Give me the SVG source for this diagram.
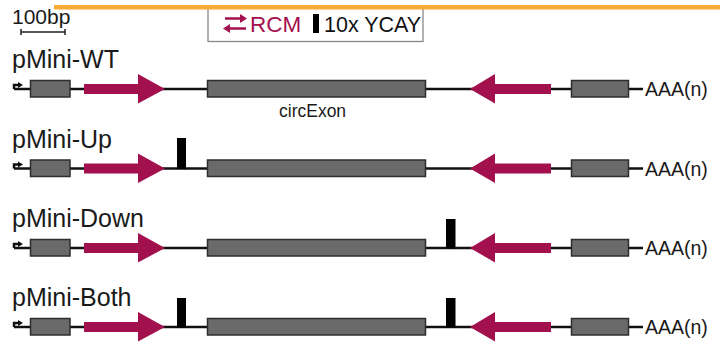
<svg xmlns="http://www.w3.org/2000/svg" width="720" height="345" viewBox="0 0 720 345">
<style>
.bb{fill:#6a6a6a;stroke:#2e2e2e;stroke-width:1.5}
.rcm{fill:#a3104e}
.ln{stroke:#111;stroke-width:2.5;fill:none}
.lbl{font-family:"Liberation Sans",Arial,sans-serif;font-size:25px;fill:#1a1a1a}
.aaa{font-family:"Liberation Sans",Arial,sans-serif;font-size:19.5px;fill:#1a1a1a}
.bar{fill:#000}
</style>
<defs>
<polygon id="fwd" class="rcm" points="84,84 138,84 138,74 165,89 138,103.5 138,94 84,94"/>
<polygon id="rev" class="rcm" points="551,84 495,84 495,74 470,89 495,103.5 495,94 551,94"/>
<g id="prom"><path d="M14,89 V85 H19" class="ln" stroke-width="2"/><polygon points="18,82 23,85 18,88" fill="#111"/></g>
</defs>
<g id="scale">
<text x="12" y="24" font-family="Liberation Sans,Arial,sans-serif" font-size="21" fill="#1a1a1a">100bp</text>
<path d="M21,32 H65 M21,29 V35 M65,29 V35" stroke="#222" stroke-width="1.5"/>
</g>
<g id="legend">
<rect x="208" y="6" width="215" height="35.5" fill="#fff" stroke="#888" stroke-width="1.3"/>
<path d="M225,18.5 H243 M226,28.5 H246" stroke="#a3104e" stroke-width="2.5"/>
<polygon points="240,14 247,18.5 240,23" fill="#a3104e"/>
<polygon points="230,24 223,28.5 230,33" fill="#a3104e"/>
<text x="250" y="31.5" font-family="Liberation Sans,Arial,sans-serif" font-size="22.5" fill="#a3104e">RCM</text>
<rect x="313" y="14" width="6" height="19" class="bar"/>
<text x="324" y="31.5" font-family="Liberation Sans,Arial,sans-serif" font-size="21.5" fill="#111">10x YCAY</text>
</g>
<rect x="54" y="5" width="666" height="4.5" fill="#fbac36"/>
<g id="connectors">
<path class="ln" d="M14,89 H643 M14,168.5 H643 M14,248 H643 M14,327 H643"/>
</g>
<g id="row-wt">
<text class="lbl" x="12" y="68">pMini-WT</text>
<use href="#prom"/>
<rect class="bb" x="30.5" y="80.5" width="39.5" height="16.5"/>
<use href="#fwd"/>
<rect class="bb" x="207.5" y="80.5" width="218" height="16.5"/>
<text x="279" y="117" font-family="Liberation Sans,Arial,sans-serif" font-size="17.5" fill="#1a1a1a">circExon</text>
<use href="#rev"/>
<rect class="bb" x="571.5" y="80.5" width="57" height="16.5"/>
<text class="aaa" x="645" y="96">AAA(n)</text>
</g>
<g id="row-up" transform="translate(0,79.5)">
<text class="lbl" x="12" y="68">pMini-Up</text>
<use href="#prom"/>
<rect class="bb" x="30.5" y="80.5" width="39.5" height="16.5"/>
<use href="#fwd"/>
<rect class="bar" x="177" y="58.5" width="9" height="31"/>
<rect class="bb" x="207.5" y="80.5" width="218" height="16.5"/>
<use href="#rev"/>
<rect class="bb" x="571.5" y="80.5" width="57" height="16.5"/>
<text class="aaa" x="645" y="96">AAA(n)</text>
</g>
<g id="row-down" transform="translate(0,159)">
<text class="lbl" x="12" y="68">pMini-Down</text>
<use href="#prom"/>
<rect class="bb" x="30.5" y="80.5" width="39.5" height="16.5"/>
<use href="#fwd"/>
<rect class="bb" x="207.5" y="80.5" width="218" height="16.5"/>
<rect class="bar" x="446" y="60" width="9.5" height="29.5"/>
<use href="#rev"/>
<rect class="bb" x="571.5" y="80.5" width="57" height="16.5"/>
<text class="aaa" x="645" y="96">AAA(n)</text>
</g>
<g id="row-both" transform="translate(0,238)">
<text class="lbl" x="12" y="68">pMini-Both</text>
<use href="#prom"/>
<rect class="bb" x="30.5" y="80.5" width="39.5" height="16.5"/>
<use href="#fwd"/>
<rect class="bar" x="177" y="60" width="9" height="29.5"/>
<rect class="bb" x="207.5" y="80.5" width="218" height="16.5"/>
<rect class="bar" x="446" y="60" width="9.5" height="29.5"/>
<use href="#rev"/>
<rect class="bb" x="571.5" y="80.5" width="57" height="16.5"/>
<text class="aaa" x="645" y="96">AAA(n)</text>
</g>
</svg>
